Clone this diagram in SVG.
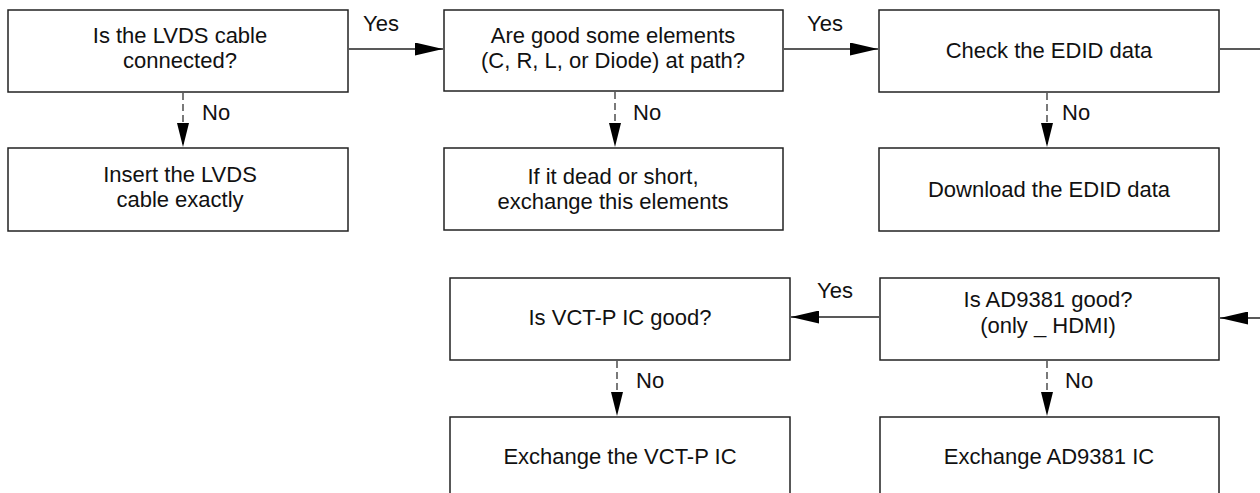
<svg xmlns="http://www.w3.org/2000/svg" width="1260" height="493" viewBox="0 0 1260 493">
<style>
.box{fill:#fff;stroke:#222;stroke-width:1.5}
.t{font-family:"Liberation Sans",Arial,sans-serif;font-size:22px;fill:#111;text-anchor:middle}
.lbl{font-family:"Liberation Sans",Arial,sans-serif;font-size:22px;fill:#111}
.solid{stroke:#222;stroke-width:1.3;fill:none}
.dash{stroke:#333;stroke-width:1.3;stroke-dasharray:7,4;fill:none}
</style>
<defs>
<marker id="ah" markerWidth="28" markerHeight="13" refX="28" refY="6.5" orient="auto" markerUnits="userSpaceOnUse">
<path d="M0,0 L28,6.5 L0,13 Z" fill="#000"/>
</marker>
<marker id="av" markerWidth="24" markerHeight="12" refX="24" refY="6" orient="auto" markerUnits="userSpaceOnUse">
<path d="M0,0 L24,6 L0,12 Z" fill="#000"/>
</marker>
</defs>
<rect width="1260" height="493" fill="#fff"/>
<g id="n1"><rect class="box" x="8" y="10" width="340" height="82"/><text class="t" x="180" y="43">Is the LVDS cable</text><text class="t" x="180" y="68">connected?</text></g>
<g id="n1b"><rect class="box" x="8" y="148" width="340" height="83"/><text class="t" x="180" y="182">Insert the LVDS</text><text class="t" x="180" y="207">cable exactly</text></g>
<g id="n2"><rect class="box" x="444" y="10" width="339" height="81"/><text class="t" x="613" y="43">Are good some elements</text><text class="t" x="613" y="68">(C, R, L, or Diode) at path?</text></g>
<g id="n2b"><rect class="box" x="444" y="148" width="339" height="82"/><text class="t" x="613" y="184">If it dead or short,</text><text class="t" x="613" y="209">exchange this elements</text></g>
<g id="n3"><rect class="box" x="879" y="10" width="340" height="82"/><text class="t" x="1049" y="58">Check the EDID data</text></g>
<g id="n3b"><rect class="box" x="879" y="148" width="340" height="83"/><text class="t" x="1049" y="197">Download the EDID data</text></g>
<g id="n4"><rect class="box" x="450" y="278" width="340" height="82"/><text class="t" x="620" y="325">Is VCT-P IC good?</text></g>
<g id="n4b"><rect class="box" x="450" y="417" width="340" height="84"/><text class="t" x="620" y="464">Exchange the VCT-P IC</text></g>
<g id="n5"><rect class="box" x="880" y="278" width="339" height="82"/><text class="t" x="1048" y="307">Is AD9381 good?</text><text class="t" x="1048" y="333">(only _ HDMI)</text></g>
<g id="n5b"><rect class="box" x="880" y="417" width="339" height="84"/><text class="t" x="1049" y="464">Exchange AD9381 IC</text></g>
<g id="connectors">
<line class="solid" x1="349" y1="49" x2="443" y2="49" marker-end="url(#ah)"/>
<line class="solid" x1="784" y1="49" x2="878" y2="49" marker-end="url(#ah)"/>
<line class="solid" x1="1220" y1="49" x2="1260" y2="49"/>
<line class="solid" x1="1260" y1="318" x2="1220" y2="318" marker-end="url(#ah)"/>
<line class="solid" x1="879" y1="317" x2="791" y2="317" marker-end="url(#ah)"/>
<line class="dash" x1="183" y1="93" x2="183" y2="147" marker-end="url(#av)"/>
<line class="dash" x1="615" y1="92" x2="615" y2="147" marker-end="url(#av)"/>
<line class="dash" x1="1047" y1="93" x2="1047" y2="147" marker-end="url(#av)"/>
<line class="dash" x1="617" y1="361" x2="617" y2="416" marker-end="url(#av)"/>
<line class="dash" x1="1047" y1="361" x2="1047" y2="416" marker-end="url(#av)"/>
<text class="lbl" x="363" y="31">Yes</text>
<text class="lbl" x="807" y="31">Yes</text>
<text class="lbl" x="817" y="298">Yes</text>
<text class="lbl" x="202" y="120">No</text>
<text class="lbl" x="633" y="120">No</text>
<text class="lbl" x="1062" y="120">No</text>
<text class="lbl" x="636" y="388">No</text>
<text class="lbl" x="1065" y="388">No</text>
</g>
</svg>
